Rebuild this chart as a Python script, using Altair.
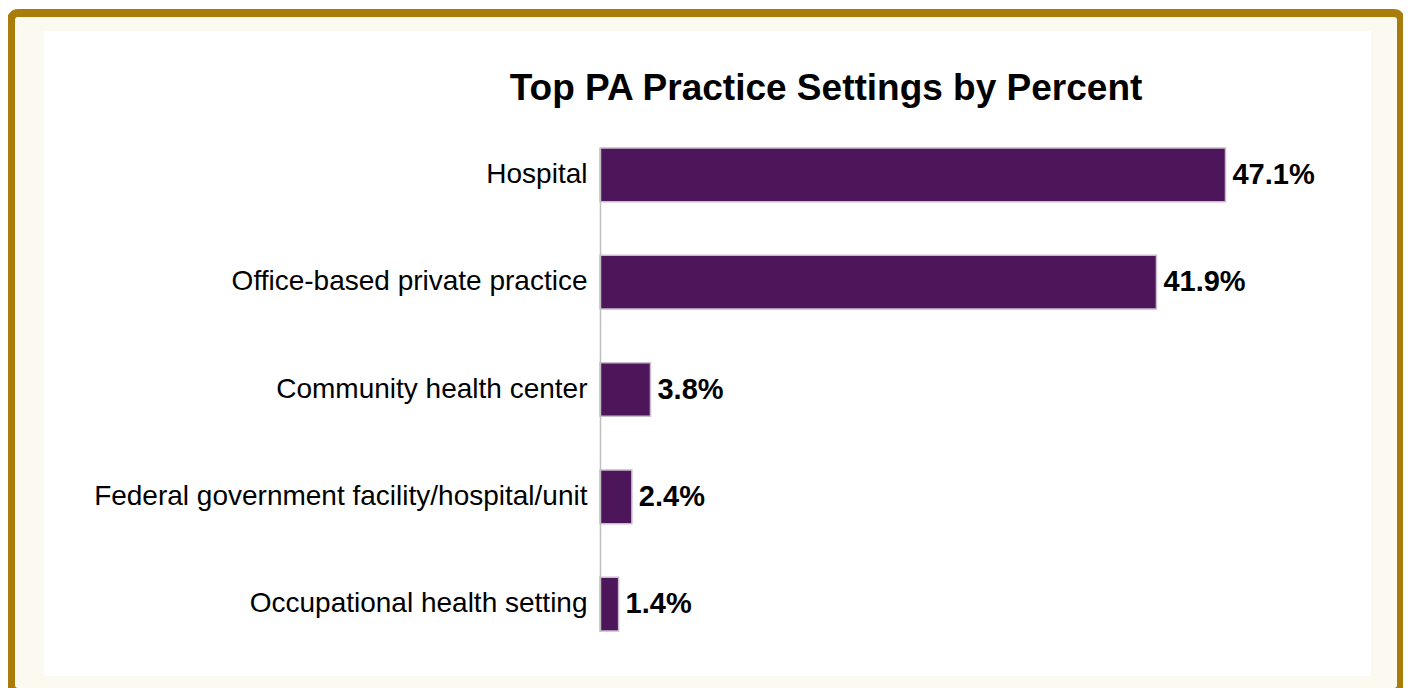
import altair as alt
import pandas as pd

categories = [
    "Hospital",
    "Office-based private practice",
    "Community health center",
    "Federal government facility/hospital/unit",
    "Occupational health setting",
]
values = [47.1, 41.9, 3.8, 2.4, 1.4]
value_labels = ["47.1%", "41.9%", "3.8%", "2.4%", "1.4%"]
title_text = "Top PA Practice Settings by Percent"

df = pd.DataFrame({"setting": categories, "pct": values, "label": value_labels})

W, H = 664, 483
TOTAL_W, TOTAL_H = 1395, 680
PAD_L, PAD_T = 592, 140

one = alt.Data(values=[{"k": 1}])

frame = alt.Chart(one).mark_rect(
    fill="#FCF9F0", stroke="#A87D0C", strokeWidth=8, cornerRadius=7
).encode(
    x=alt.value(-589), x2=alt.value(801),
    y=alt.value(-135), y2=alt.value(544),
)

inner = alt.Chart(one).mark_rect(fill="#FFFFFF").encode(
    x=alt.value(-556), x2=alt.value(771),
    y=alt.value(-117), y2=alt.value(528),
)

title = alt.Chart(one).mark_text(
    text=title_text, font="Liberation Sans", fontSize=37, fontWeight="bold",
    color="#000000", align="center", baseline="alphabetic",
).encode(x=alt.value(226), y=alt.value(-48))

yenc = alt.Y(
    "setting:N", sort=categories,
    scale=alt.Scale(paddingInner=0.5, paddingOuter=0),
    axis=alt.Axis(
        title=None, ticks=False, labelPadding=13, labelFontSize=28,
        labelFont="Liberation Sans", labelColor="#000000", labelLimit=0,
        domainColor="#BFBFBF", domainWidth=1.5, grid=False, zindex=1,
    ),
)
xenc = alt.X("pct:Q", scale=alt.Scale(domain=[0, 50], nice=False), axis=None)

bars = alt.Chart(df).mark_bar(
    color="#4E165A", stroke="#C9BCCD", strokeWidth=1.5
).encode(x=xenc, y=yenc)

labels = alt.Chart(df).mark_text(
    align="left", baseline="middle", dx=7, font="Liberation Sans",
    fontSize=29, fontWeight="bold", color="#000000",
).encode(x=xenc, y=alt.Y("setting:N", sort=categories), text="label:N")

chart = alt.layer(frame, inner, title, bars, labels).properties(
    width=W, height=H,
    autosize=alt.AutoSizeParams(type="none"),
    padding={"left": PAD_L, "top": PAD_T, "right": TOTAL_W - PAD_L - W,
             "bottom": TOTAL_H - PAD_T - H},
    background="#FFFFFF",
).configure_view(stroke=None)

chart.save("out.html", embed_options={"renderer": "svg", "actions": False})
